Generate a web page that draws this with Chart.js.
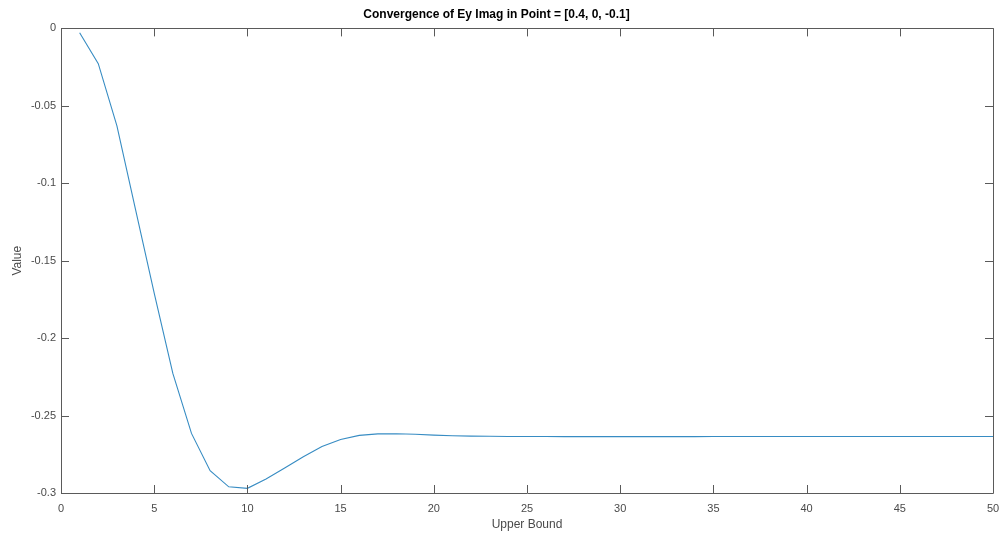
<!DOCTYPE html>
<html>
<head>
<meta charset="utf-8">
<script src="https://cdn.jsdelivr.net/npm/chart.js@4"></script>
<style>
html,body{margin:0;padding:0;background:#fff}
#wrap{width:1003px;height:538px}
</style>
</head>
<body>
<div id="wrap"><canvas id="conv"></canvas></div>
<script>
// upper bound of the sum
const bounds = []
for(let n = 1; n <= 50; n++){ bounds.push(n) }

// imaginary part of Ey at [0.4, 0, -0.1]
const eyImag = [
-0.0028, -0.0228, -0.0630, -0.1170, -0.1710, -0.2228, -0.2615, -0.2856, -0.2960, -0.2970,
-0.2910, -0.2838, -0.2766, -0.2700, -0.2655, -0.2628, -0.2618, -0.2617, -0.2621, -0.2626,
-0.2630, -0.2633, -0.2634, -0.2635, -0.2635, -0.2635, -0.2636, -0.2636, -0.2636, -0.2636,
-0.2636, -0.2636, -0.2636, -0.2636, -0.2635, -0.2635, -0.2635, -0.2635, -0.2635, -0.2635,
-0.2635, -0.2635, -0.2635, -0.2635, -0.2635, -0.2635, -0.2635, -0.2635, -0.2635, -0.2635
]

const xTicks = [0,5,10,15,20,25,30,35,40,45,50]
const yTicks = [0,-0.05,-0.1,-0.15,-0.2,-0.25,-0.3]

const axisColor = "#5a5a5a"
const tickColor = "#4a4a4a"

// box around the axes with inward ticks on all four sides
const boxTicks = {
id:"boxTicks",
afterDraw(chart){
const ctx = chart.ctx
const a = chart.chartArea
const xs = chart.scales.x
const ys = chart.scales.y
const len = 8
ctx.save()
ctx.strokeStyle = axisColor
ctx.lineWidth = 1
ctx.beginPath()
ctx.rect(Math.round(a.left)+0.5, Math.round(a.top)+0.5, Math.round(a.right-a.left), Math.round(a.bottom-a.top))
xTicks.forEach(v => {
const px = Math.round(xs.getPixelForValue(v))+0.5
ctx.moveTo(px, a.bottom); ctx.lineTo(px, a.bottom-len)
ctx.moveTo(px, a.top); ctx.lineTo(px, a.top+len)
})
yTicks.forEach(v => {
const py = Math.round(ys.getPixelForValue(v))+0.5
ctx.moveTo(a.left, py); ctx.lineTo(a.left+len, py)
ctx.moveTo(a.right, py); ctx.lineTo(a.right-len, py)
})
ctx.stroke()
ctx.restore()
}
}

new Chart(document.getElementById("conv"), {
type:"line",
data:{
labels:bounds,
datasets:[{
data:eyImag.map((v,i) => ({x:bounds[i], y:v})),
borderColor:"rgb(55,140,195)",
borderWidth:1.1,
pointRadius:0,
tension:0,
fill:false
}]
},
options:{
responsive:true,
maintainAspectRatio:false,
animation:false,
layout:{padding:{left:0,right:10,top:0,bottom:0}},
plugins:{
legend:{display:false},
tooltip:{enabled:false},
title:{
display:true,
text:"Convergence of Ey Imag in Point = [0.4, 0, -0.1]",
color:"#000",
font:{family:"Liberation Sans, Arial, sans-serif", size:12, weight:"bold"},
padding:{top:7,bottom:7}
}
},
scales:{
x:{
type:"linear",
min:0,
max:50,
afterBuildTicks(scale){ scale.ticks = xTicks.map(v => ({value:v})) },
grid:{display:false},
border:{display:false},
ticks:{
color:tickColor,
padding:1,
maxRotation:0,
font:{family:"Liberation Sans, Arial, sans-serif", size:11}
},
title:{
display:true,
text:"Upper Bound",
color:tickColor,
padding:{top:0,bottom:6},
font:{family:"Liberation Sans, Arial, sans-serif", size:12}
},
afterFit(scale){ scale.height = 45 }
},
y:{
type:"linear",
min:-0.3,
max:0,
afterBuildTicks(scale){ scale.ticks = yTicks.map(v => ({value:v})) },
grid:{display:false},
border:{display:false},
ticks:{
color:tickColor,
padding:-3,
font:{family:"Liberation Sans, Arial, sans-serif", size:11},
callback:v => String(Number(v.toFixed(2)))
},
title:{
display:true,
text:"Value",
color:tickColor,
padding:{top:10,bottom:0},
font:{family:"Liberation Sans, Arial, sans-serif", size:12}
},
afterFit(scale){ scale.width = 61 }
}
}
},
plugins:[boxTicks]
})
</script>
</body>
</html>
